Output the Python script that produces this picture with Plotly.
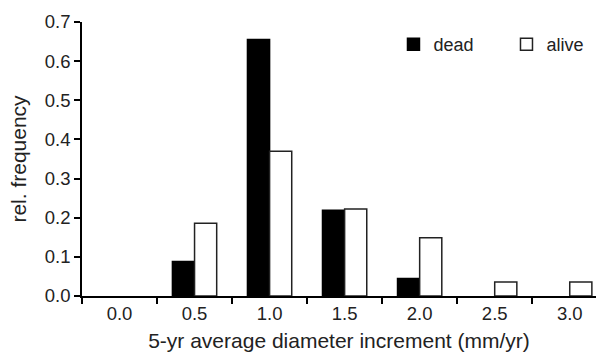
import plotly.graph_objects as go

categories = ["0.0", "0.5", "1.0", "1.5", "2.0", "2.5", "3.0"]
dead = [0.0, 0.088, 0.655, 0.219, 0.045, 0.0, 0.0]
alive = [0.0, 0.186, 0.370, 0.222, 0.149, 0.036, 0.036]
y_ticks = [0.0, 0.1, 0.2, 0.3, 0.4, 0.5, 0.6, 0.7]

FONT = "Liberation Sans, Arial, sans-serif"


def outline(vals):
    return [1.5 if v > 0 else 0 for v in vals]


fig = go.Figure()
fig.add_trace(go.Bar(x=categories, y=dead, name="dead", offsetgroup="dead", showlegend=False,
                     marker=dict(color="black", line=dict(color="black", width=outline(dead)))))
fig.add_trace(go.Bar(x=categories, y=alive, name="alive", offsetgroup="alive", showlegend=False,
                     marker=dict(color="white", line=dict(color="#222", width=outline(alive)))))
# legend entries
fig.add_trace(go.Bar(x=[categories[0]], y=[None], name="dead", offsetgroup="dead", showlegend=True,
                     marker=dict(color="black", line=dict(color="black", width=1.5))))
fig.add_trace(go.Bar(x=[categories[0]], y=[None], name="alive", offsetgroup="alive", showlegend=True,
                     marker=dict(color="white", line=dict(color="#222", width=1.5))))

fig.update_layout(
    width=596, height=352,
    margin=dict(l=82, r=0, t=22, b=56, autoexpand=False),
    paper_bgcolor="white", plot_bgcolor="white",
    font=dict(family=FONT, size=18.5, color="#222"),
    barmode="group", bargap=0.41, bargroupgap=0,
    legend=dict(orientation="h", x=0.606, y=0.918, xanchor="left", yanchor="middle",
                bgcolor="rgba(0,0,0,0)", font=dict(size=18),
                entrywidth=68, entrywidthmode="pixels", traceorder="normal"),
    xaxis=dict(
        type="category", range=[-0.5, 6.35], categoryorder="array", categoryarray=categories,
        showline=True, linecolor="black", linewidth=1.5,
        ticks="outside", tickson="boundaries", ticklen=6, tickcolor="black", tickwidth=1.5,
        showgrid=False, zeroline=False,
        title=dict(text="5-yr average diameter increment (mm/yr)", standoff=12, font=dict(size=21)),
    ),
    yaxis=dict(
        range=[0, 0.7], tickvals=y_ticks, tickformat=".1f",
        showline=True, linecolor="black", linewidth=1.5,
        ticks="outside", ticklen=6, tickcolor="black", tickwidth=1.5,
        showgrid=False, zeroline=False,
        title=dict(text="rel. frequency", standoff=12, font=dict(size=21)),
    ),
)

fig.write_html("out.html")
